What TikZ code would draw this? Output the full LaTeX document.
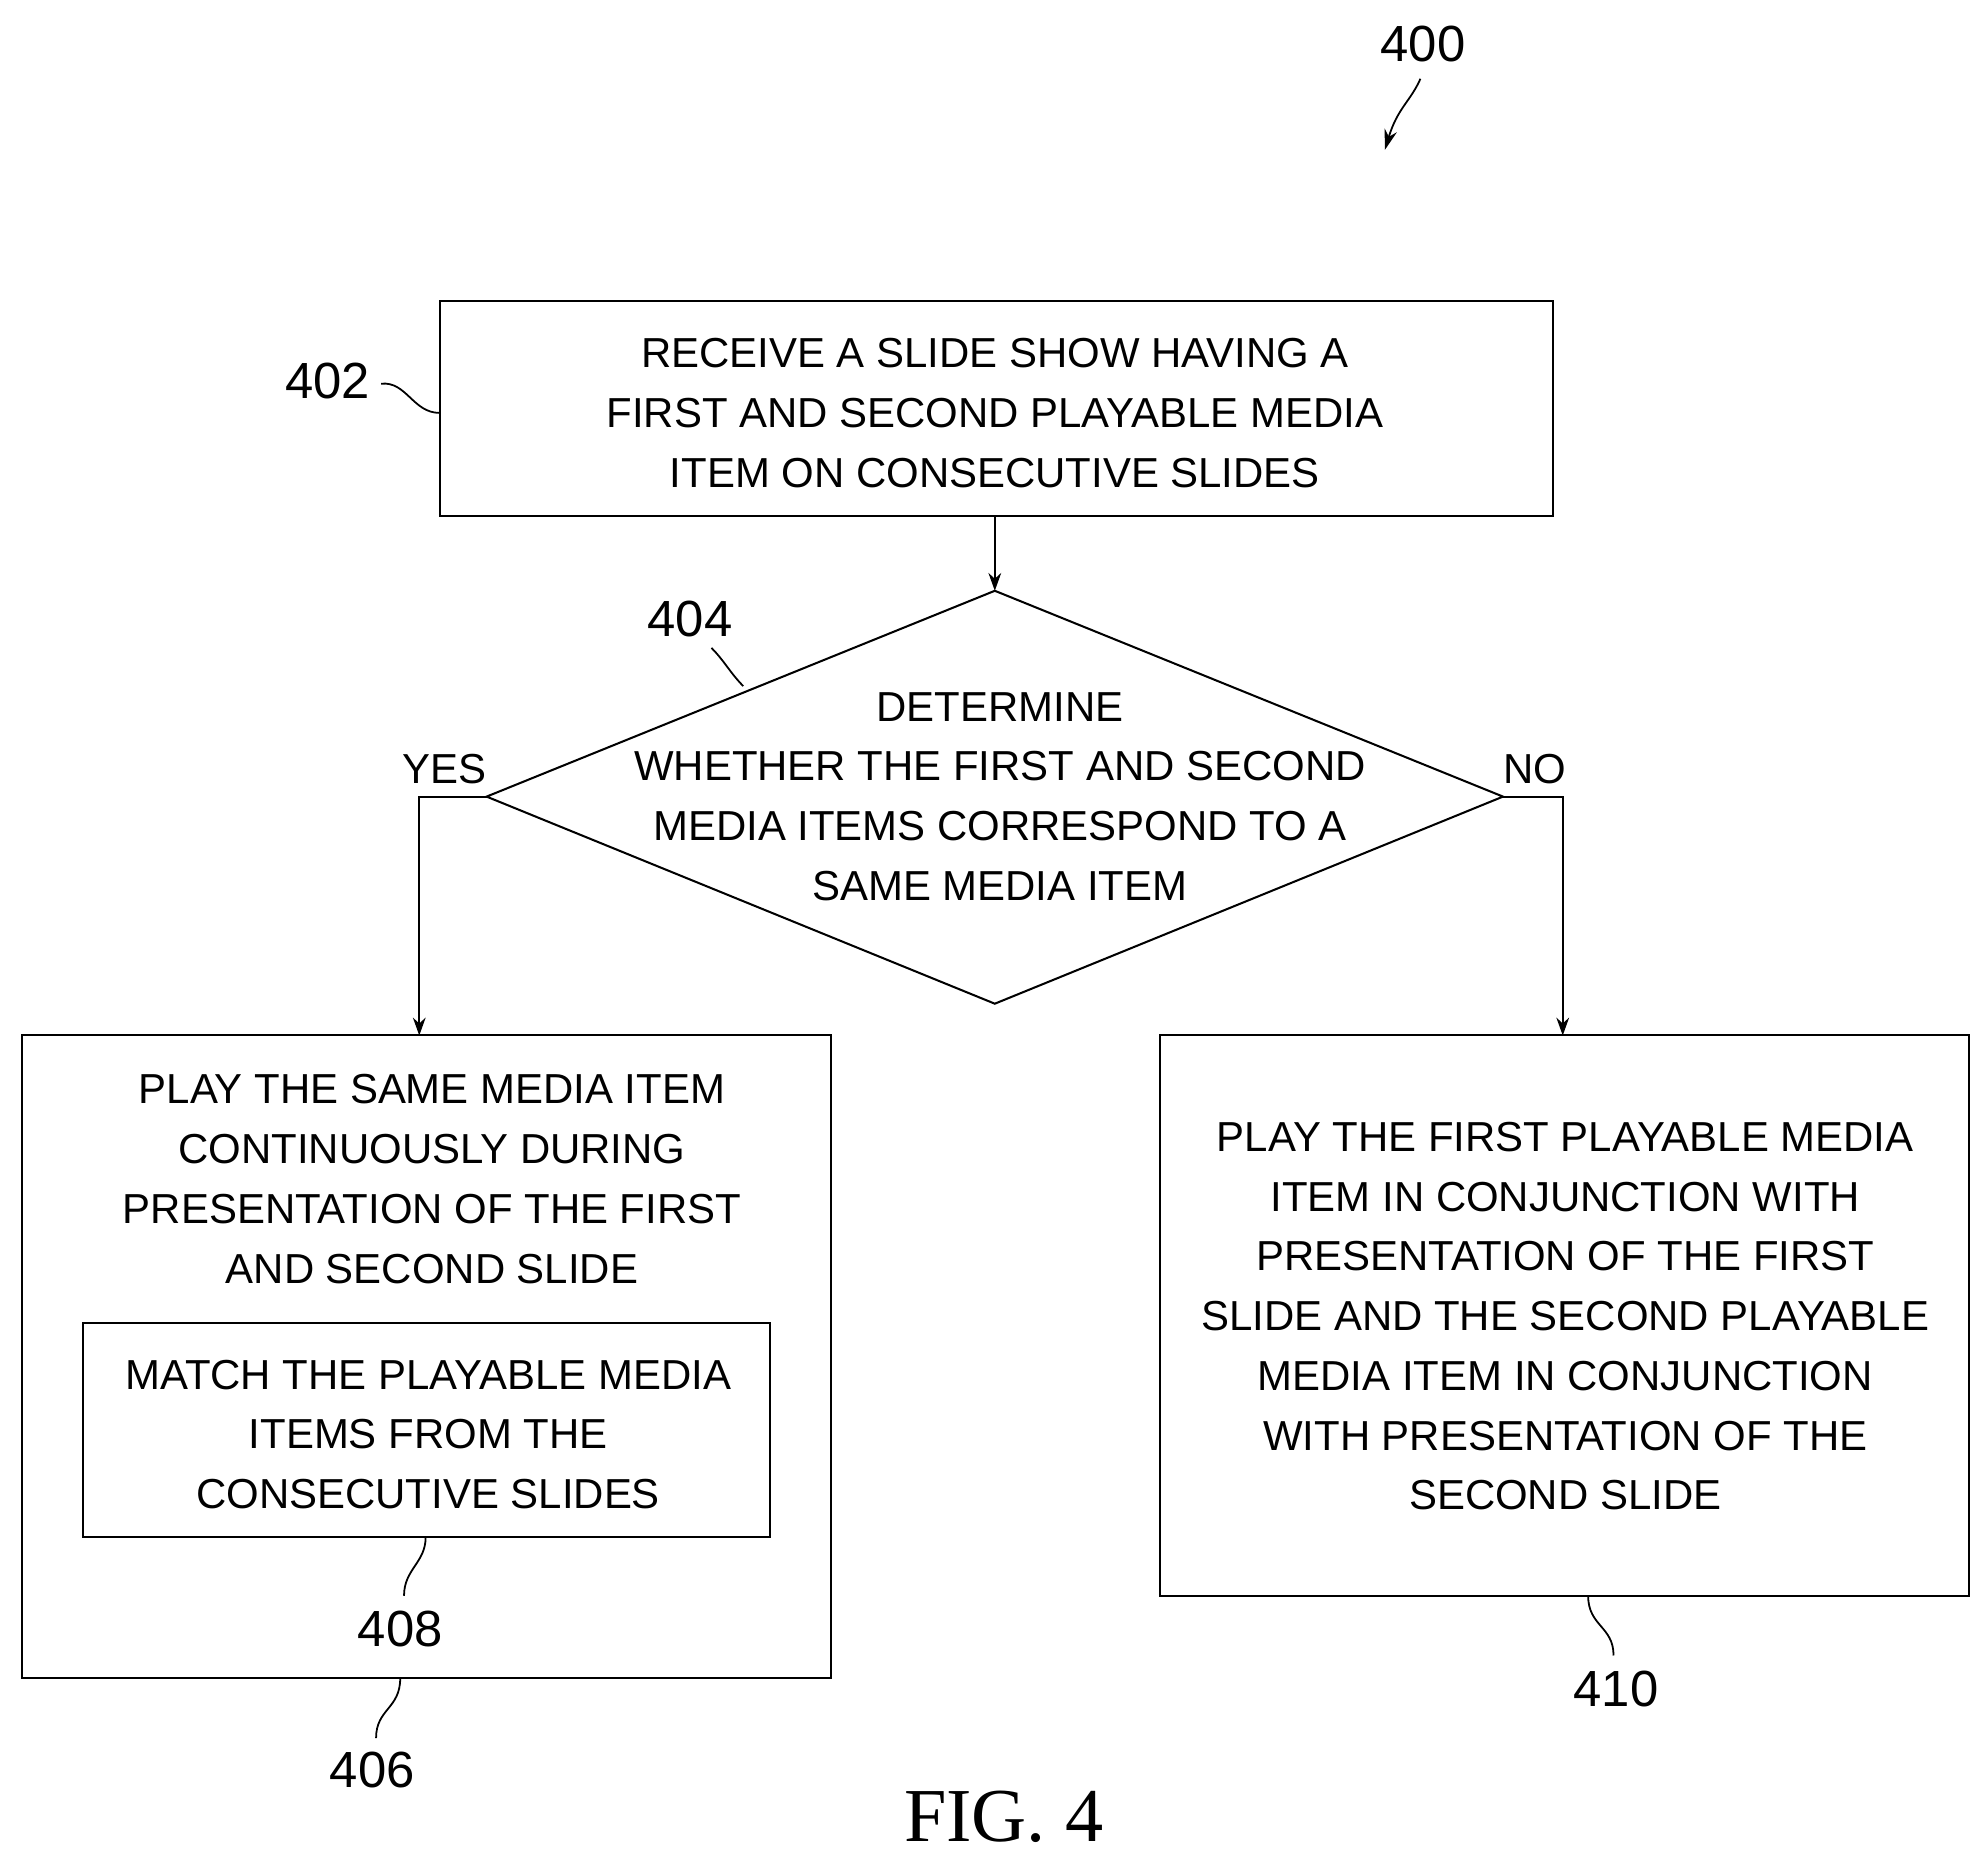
\documentclass[tikz,border=0pt]{standalone}
\usepackage{fontspec}
\setmainfont{Liberation Sans}
\newfontfamily\figfont{Liberation Serif}
\usetikzlibrary{arrows.meta,shapes.geometric}
\begin{document}
\begin{tikzpicture}[x=0.5pt,y=-0.5pt,
  box/.style={draw,line width=0.8pt,inner sep=0},
  txt/.style={font=\fontsize{16.5}{23.5}\selectfont,align=center},
  lbl/.style={font=\fontsize{20}{22}\selectfont},
  arr/.style={line width=0.8pt,-{Stealth[length=7pt,width=5pt]}},
  sq/.style={line width=0.7pt}]
\useasboundingbox (0,0) rectangle (1560,1460);
% boxes
\draw[box] (346,237) rectangle (1222,406);
\node[txt] (b402) at (783,325) {RECEIVE A SLIDE SHOW HAVING A\\FIRST AND SECOND PLAYABLE MEDIA\\ITEM ON CONSECUTIVE SLIDES};
\coordinate (dT) at (783,465);\coordinate (dL) at (383,627);
\coordinate (dR) at (1183,627);\coordinate (dB) at (783,790);
\draw[line width=0.8pt] (dT)--(dR)--(dB)--(dL)--cycle;
\node[txt] (d404) at (787,627) {DETERMINE\\WHETHER THE FIRST AND SECOND\\MEDIA ITEMS CORRESPOND TO A\\SAME MEDIA ITEM};
\draw[box] (17,815) rectangle (654,1321);
\node[txt] at (340,928) {PLAY THE SAME MEDIA ITEM\\CONTINUOUSLY DURING\\PRESENTATION OF THE FIRST\\AND SECOND SLIDE};
\draw[box] (65,1041) rectangle (606,1210);
\node[txt] at (337,1129) {MATCH THE PLAYABLE MEDIA\\ITEMS FROM THE\\CONSECUTIVE SLIDES};
\draw[box] (913,815) rectangle (1550,1256);
\node[txt] at (1232,1036) {PLAY THE FIRST PLAYABLE MEDIA\\ITEM IN CONJUNCTION WITH\\PRESENTATION OF THE FIRST\\SLIDE AND THE SECOND PLAYABLE\\MEDIA ITEM IN CONJUNCTION\\WITH PRESENTATION OF THE\\SECOND SLIDE};
% connectors
\coordinate (b402b) at (783,406);
\draw[arr] (b402b)--(dT);
\coordinate (l1) at (330,815);\coordinate (r1) at (1230,815);
\draw[arr] (dL)--(330,627)--(l1);
\draw[arr] (dR)--(1230,627)--(r1);
\node[txt] (yes) at (350,605) {YES};
\node[txt] (no) at (1208,605) {NO};
% labels
\node[lbl] (n400) at (1120,35) {400};
\draw[sq,-{Stealth[length=8pt,width=5pt]}] (1118,62) .. controls (1110,80) and (1100,85) .. (1090,118);
\node[lbl] (n402) at (258,300) {402};
\draw[sq] (300,302) .. controls (320,300) and (325,325) .. (346,325);
\node[lbl] (n404) at (543,487) {404};
\draw[sq] (560,510) .. controls (570,520) and (575,530) .. (585,540);
\node[lbl] (n408) at (315,1282) {408};
\draw[sq] (335,1210) .. controls (335,1230) and (318,1235) .. (318,1256);
\node[lbl] (n406) at (293,1393) {406};
\draw[sq] (315,1321) .. controls (315,1345) and (296,1345) .. (296,1368);
\node[lbl] (n410) at (1272,1329) {410};
\draw[sq] (1250,1256) .. controls (1250,1280) and (1270,1280) .. (1270,1303);
\node[font=\figfont\fontsize{30}{32}\selectfont] (fig) at (790,1430) {FIG. 4};
\end{tikzpicture}
\end{document}
